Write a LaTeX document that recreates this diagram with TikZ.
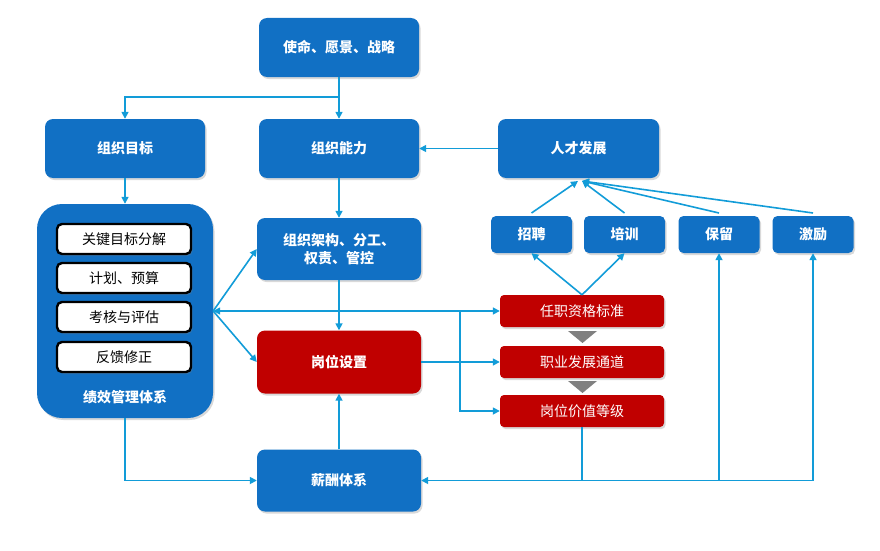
\documentclass[tikz,border=0pt]{standalone}
\usepackage{fontspec}
\setmainfont{Noto Sans CJK SC}
\usetikzlibrary{arrows.meta,shadows,calc}
\definecolor{boxblue}{RGB}{17,112,196}
\definecolor{boxred}{RGB}{192,0,0}
\definecolor{linkblue}{RGB}{18,156,216}
\definecolor{trigray}{RGB}{128,128,128}
\tikzset{
  shade/.style={drop shadow={opacity=0.3,shadow xshift=1.5pt,shadow yshift=-2pt}},
  bluebox/.style={fill=boxblue,text=white,font=\fontsize{14}{18}\selectfont\bfseries,
    rounded corners=8pt,inner sep=0pt,align=center,shade},
  redbig/.style={bluebox,fill=boxred},
  redsmall/.style={fill=boxred,text=white,font=\fontsize{14}{18}\selectfont,
    rounded corners=4pt,inner sep=0pt,minimum width=164pt,minimum height=32pt,shade},
  smallblue/.style={bluebox,rounded corners=5pt,minimum width=81pt,minimum height=37pt},
  whitebox/.style={fill=white,draw=black,line width=2.4pt,rounded corners=5pt,
    font=\fontsize{14}{18}\selectfont,minimum width=134pt,minimum height=30pt,inner sep=0pt,shade},
  link/.style={draw=linkblue,line width=1.6pt},
  arr/.style={link,-{Triangle[length=7pt,width=7pt]}},
  darr/.style={link,{Triangle[length=7pt,width=7pt]}-{Triangle[length=7pt,width=7pt]}}
}
\begin{document}
\begin{tikzpicture}[x=1pt,y=-1pt]
\useasboundingbox (0,0) rectangle (880,551);

% main blue boxes
\node[bluebox,minimum width=160pt,minimum height=59pt] (mission) at (339,47.5) {使命、愿景、战略};
\node[bluebox,minimum width=160pt,minimum height=59pt] (goal) at (125,148.5) {组织目标};
\node[bluebox,minimum width=160pt,minimum height=59pt] (cap) at (339,148.5) {组织能力};
\node[bluebox,minimum width=161pt,minimum height=59pt] (talent) at (578.5,148.5) {人才发展};
\node[bluebox,minimum width=164pt,minimum height=62pt] (arch) at (339,249) {组织架构、分工、\\权责、管控};
\node[redbig,minimum width=164pt,minimum height=63pt] (post) at (339,362) {岗位设置};
\node[bluebox,minimum width=164pt,minimum height=62pt] (pay) at (339,480.5) {薪酬体系};

% performance management
\node[fill=boxblue,rounded corners=25pt,minimum width=176pt,minimum height=214pt,inner sep=0pt,shade] (perf) at (125,311) {};
\node[whitebox] (w1) at (124,239) {关键目标分解};
\node[whitebox] (w2) at (124,278) {计划、预算};
\node[whitebox] (w3) at (124,317) {考核与评估};
\node[whitebox] (w4) at (124,357) {反馈修正};
\node[text=white,font=\fontsize{14}{18}\selectfont\bfseries,inner sep=0pt] (perflabel) at (125,397) {绩效管理体系};

% small blue boxes
\node[smallblue] (recruit) at (531.5,234.5) {招聘};
\node[smallblue] (train) at (624.5,234.5) {培训};
\node[smallblue] (retain) at (719,234.5) {保留};
\node[smallblue] (incent) at (813,234.5) {激励};

% red small boxes
\node[redsmall] (qual) at (582,311) {任职资格标准};
\node[redsmall] (career) at (582,362) {职业发展通道};
\node[redsmall] (val) at (582,411) {岗位价值等级};

% gray triangles
\fill[trigray] (568,331) -- (597,331) -- (582.5,343) -- cycle;
\fill[trigray] (568,381) -- (597,381) -- (582.5,393) -- cycle;

% connectors
\coordinate (split) at (339,97);
\draw[arr] (mission.south) -- (cap.north);
\draw[arr] (split) -| (goal.north);
\draw[arr] (goal.south) -- (perf.north);
\draw[arr] (cap.south) -- (arch.north);
\draw[arr] (talent.west) -- (cap.east);

\draw[arr] (perf.east) -- (arch.west);
\draw[arr] (perf.east) -- (post.west);
\draw[darr] (perf.east) -- (qual.west);
\coordinate (j1) at (460,311);
\draw[arr] (j1) |- (val.west);
\draw[arr] (post.east) -- (career.west);
\draw[arr] (arch.south) -- (post.north);
\draw[arr] (pay.north) -- (post.south);
\draw[arr] (perf.south) |- (pay.west);

\coordinate (b4) at (813,480.5);
\draw[arr] (b4) -- (pay.east);
\draw[arr] (b4) -- (incent.south);
\draw[arr] (b4 -| retain.south) -- (retain.south);
\draw[link] (val.south) -- (val.south |- b4);

\draw[arr] (qual.north) -- (recruit.south);
\draw[arr] (qual.north) -- (train.south);

\coordinate (t1) at (578,181);
\coordinate (t2) at (582,181);
\coordinate (r1) at (531.5,213);
\coordinate (r2) at (624.5,213);
\coordinate (r3) at (719,213);
\coordinate (r4) at (813,213);
\draw[arr] (r1) -- (t1);
\draw[arr] (r2) -- (t2);
\draw[arr] (r3) -- (t2);
\draw[arr] (r4) -- (t2);
\end{tikzpicture}
\end{document}
